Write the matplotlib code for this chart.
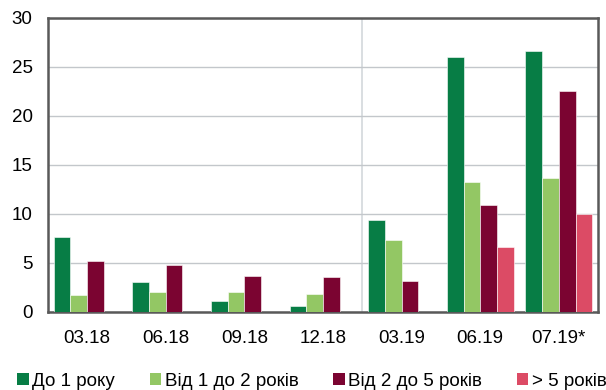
import numpy as np
import matplotlib.pyplot as plt
from matplotlib.patches import Patch

plt.rcParams['font.family'] = ['Liberation Sans', 'DejaVu Sans']

# Data
periods = ['03.18', '06.18', '09.18', '12.18', '03.19', '06.19', '07.19*']
series_names = ['До 1 року', 'Від 1 до 2 років', 'Від 2 до 5 років', '> 5 років']
up_to_1 = [7.7, 3.1, 1.1, 0.6, 9.4, 26.0, 26.6]
from_1_to_2 = [1.7, 2.0, 2.0, 1.8, 7.3, 13.3, 13.7]
from_2_to_5 = [5.2, 4.8, 3.7, 3.6, 3.2, 10.9, 22.5]
over_5 = [0, 0, 0, 0, 0, 6.6, 10.0]
colors = ['#077d45', '#93c764', '#7b0431', '#dc4b65']

fig = plt.figure(figsize=(6.06, 3.9), dpi=100)
ax = fig.add_axes([0.079, 0.2, 0.908, 0.754])

x = np.arange(len(periods))
width = 0.2125
all_series = [up_to_1, from_1_to_2, from_2_to_5, over_5]
for i, (vals, c) in enumerate(zip(all_series, colors)):
    ax.bar(x + (i - 1.5) * width, vals, width, color=c, edgecolor='white', linewidth=0.4, zorder=3)

ax.set_xlim(-0.5, len(periods) - 0.5)
ax.set_ylim(0, 30)
ax.set_yticks(range(0, 31, 5))
ax.set_xticks(x)
ax.set_xticklabels(periods)
ax.tick_params(axis='both', length=0, labelsize=13.5, colors='black')
ax.tick_params(axis='x', pad=13)
ax.tick_params(axis='y', pad=11)
ax.grid(axis='y', color='#c3c7cb', linewidth=1, zorder=0)

# divider between 2018 and 2019
ax.axvline(3.5, color='#d3d8db', linewidth=1.2, zorder=1)

for s in ax.spines.values():
    s.set_color('#595959')
    s.set_linewidth(1.8)

handles = [Patch(facecolor=c, edgecolor='none') for c in colors]
fig.legend(handles, series_names, loc='center', bbox_to_anchor=(0.515, 0.022), ncol=4,
           frameon=False, fontsize=13.5, handlelength=0.6, handleheight=0.6,
           handletextpad=0.2, columnspacing=1.85, borderpad=0)

fig.savefig('out.png', dpi=100)
